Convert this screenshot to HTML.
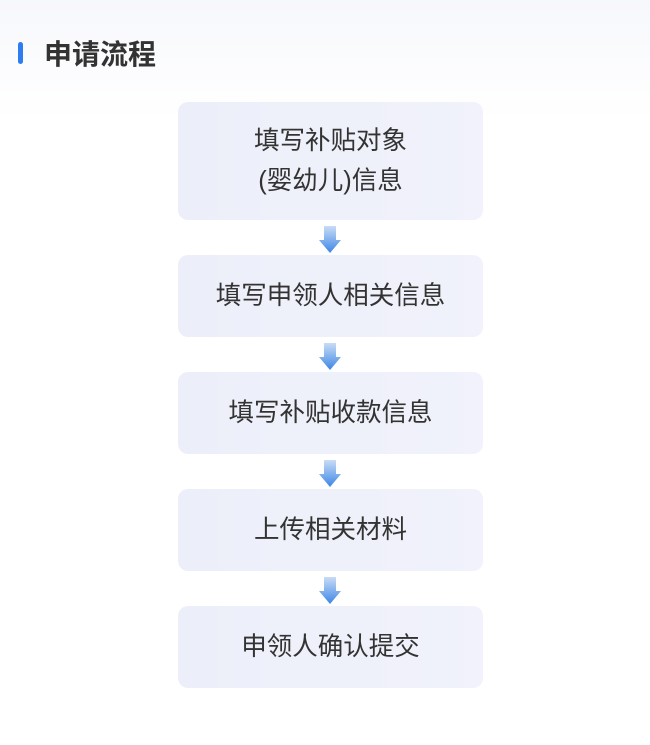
<!DOCTYPE html>
<html><head><meta charset="utf-8"><style>
body{margin:0;width:650px;height:745px;background:linear-gradient(#f7f8fc,#fff 120px);font-family:"Liberation Sans","Noto Sans CJK SC",sans-serif;position:relative;overflow:hidden}
.bar{position:absolute;left:18px;top:42px;width:5px;height:22px;border-radius:3px;background:#2f7cf0}
.t{position:absolute;left:44px;top:37px;font-size:28px;color:#333;font-weight:600;line-height:36px}
.b{position:absolute;left:178px;width:305px;background:linear-gradient(90deg,#eceff9,#f1f2fb);border-radius:10px;display:flex;align-items:center;justify-content:center;text-align:center;font-size:25.5px;color:#333;line-height:40px}
svg{position:absolute;left:318px}
</style></head><body>
<div class="bar"></div><div class="t">申请流程</div>
<div class="b" style="top:102px;height:118px">填写补贴对象<br>(婴幼儿)信息</div>
<div class="b" style="top:255px;height:82px">填写申领人相关信息</div>
<div class="b" style="top:372px;height:82px">填写补贴收款信息</div>
<div class="b" style="top:489px;height:82px">上传相关材料</div>
<div class="b" style="top:606px;height:82px">申领人确认提交</div>
<svg style="top:226px" width="24" height="28"><defs><linearGradient id="g" x1="0" y1="0" x2="0" y2="1"><stop offset="0" stop-color="#c9dcf6"/><stop offset="1" stop-color="#3d86e6"/></linearGradient></defs><path d="M6 0H18V14H23L12 27L1 14H6Z" fill="url(#g)"/></svg>
<svg style="top:343px" width="24" height="28"><path d="M6 0H18V14H23L12 27L1 14H6Z" fill="url(#g)"/></svg>
<svg style="top:460px" width="24" height="28"><path d="M6 0H18V14H23L12 27L1 14H6Z" fill="url(#g)"/></svg>
<svg style="top:577px" width="24" height="28"><path d="M6 0H18V14H23L12 27L1 14H6Z" fill="url(#g)"/></svg>
</body></html>
